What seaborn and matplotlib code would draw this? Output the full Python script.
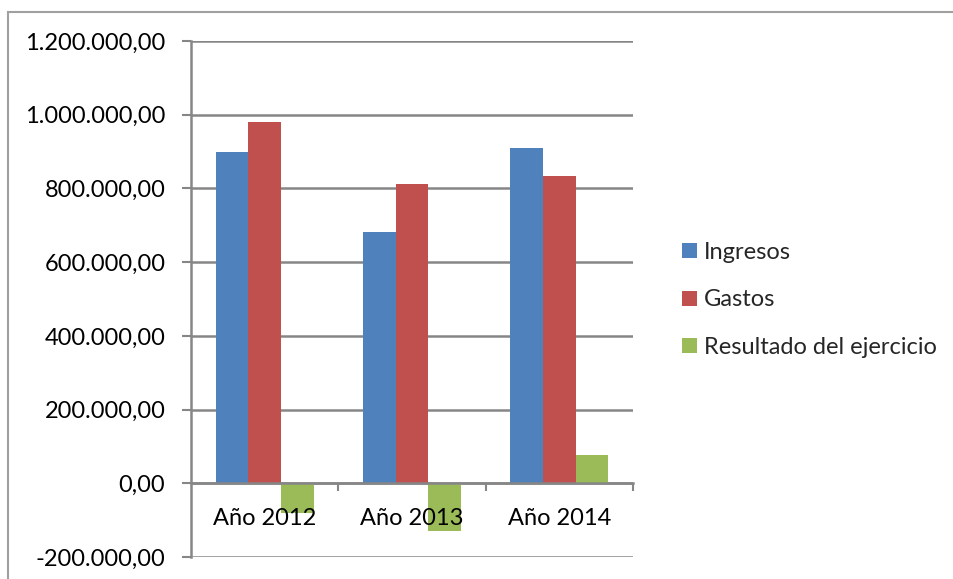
import numpy as np
import pandas as pd
import matplotlib
import matplotlib.pyplot as plt
import seaborn as sns
from matplotlib.patches import Rectangle
from matplotlib.ticker import FuncFormatter, FixedLocator

matplotlib.use('Agg')

years = ["Año 2012", "Año 2013", "Año 2014"]
ingresos = [900000, 681000, 910000]
gastos = [980000, 811000, 833000]
resultado = [-80000, -130000, 77000]
series_names = ["Ingresos", "Gastos", "Resultado del ejercicio"]
y_ticks = [-200000, 0, 200000, 400000, 600000, 800000, 1000000, 1200000]

df = pd.DataFrame({
    "year": years * 3,
    "serie": [series_names[0]] * 3 + [series_names[1]] * 3 + [series_names[2]] * 3,
    "valor": ingresos + gastos + resultado,
})

sns.set_theme(style="white")
plt.rcParams['font.family'] = ['Lato', 'DejaVu Sans']

GRID = '#868686'
FS = 17
palette = {"Ingresos": "#4F81BD", "Gastos": "#C0504D", "Resultado del ejercicio": "#9BBB59"}


def es_fmt(v, pos=None):
    s = f"{v:,.2f}"
    return s.replace(",", "X").replace(".", ",").replace("X", ".")


fig = plt.figure(figsize=(9.54, 5.79), dpi=100)
ax = fig.add_axes([191 / 954, 22 / 579, 442 / 954, 516 / 579])

sns.barplot(data=df, x="year", y="valor", hue="serie", order=years,
            hue_order=series_names, palette=palette, width=0.665,
            gap=0, linewidth=0, saturation=1, ax=ax, legend=True)

ax.set_ylim(-200000, 1200000)
ax.set_xlim(-0.5, 2.5)
ax.yaxis.set_major_locator(FixedLocator(y_ticks))
ax.yaxis.set_major_formatter(FuncFormatter(es_fmt))
ax.grid(axis='y', color=GRID, linewidth=1.8)
ax.set_axisbelow(True)
# category labels sit on top of the negative bars, gridlines stay behind
ax.xaxis.set_zorder(3)
ax.set_xlabel("")
ax.set_ylabel("")

for s in ['top', 'right']:
    ax.spines[s].set_visible(False)
ax.spines['left'].set_color(GRID)
ax.spines['left'].set_linewidth(1.8)
ax.spines['bottom'].set_position(('data', 0))
ax.spines['bottom'].set_color(GRID)
ax.spines['bottom'].set_linewidth(1.8)

ax.tick_params(axis='y', which='major', left=True, length=6.5, width=1.5,
               color=GRID, pad=12, labelsize=FS, labelcolor='black')
ax.tick_params(axis='x', which='major', bottom=False, length=0, pad=18,
               labelsize=FS, labelcolor='black')
ax.xaxis.set_minor_locator(FixedLocator([0.5, 1.5, 2.5]))
ax.tick_params(axis='x', which='minor', bottom=True, length=6, width=1.5,
               color=GRID, direction='out')

handles, labels = ax.get_legend_handles_labels()
ax.legend(handles, labels, loc='center left', bbox_to_anchor=(673 / 954, 1 - 300 / 579),
          bbox_transform=fig.transFigure, frameon=False, fontsize=FS,
          handlelength=0.6, handleheight=0.6, handletextpad=0.3,
          labelspacing=1.12, borderaxespad=0)

fig.patches.append(Rectangle((8 / 954, -0.1), 1.2, (579 - 12) / 579 + 0.1,
                             transform=fig.transFigure, fill=False,
                             edgecolor='#A0A0A0', linewidth=1.5))

fig.savefig("out.png", dpi=100)
